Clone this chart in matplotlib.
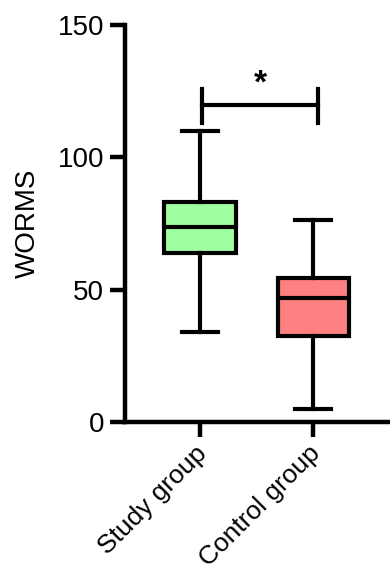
import matplotlib
matplotlib.use("Agg")
import matplotlib.pyplot as plt
from matplotlib.transforms import ScaledTranslation

plt.rcParams['font.family'] = ['Liberation Sans', 'DejaVu Sans']

categories = ["Study group", "Control group"]
whisker_low = [34, 5]
q1 = [64, 32.5]
median = [73.5, 46.8]
q3 = [83, 54.5]
whisker_high = [110, 76.5]
colors = ["#A0FFA0", "#FF8080"]
yticks = [0, 50, 100, 150]
ylabel = "WORMS"
sig_label = "*"

fig = plt.figure(figsize=(3.9, 5.7), dpi=100)
ax = fig.add_axes([125/390, 1-422/570, 1-125/390, (422-25)/570])

stats = []
for i, c in enumerate(categories):
    stats.append(dict(label=c, whislo=whisker_low[i], q1=q1[i], med=median[i],
                      q3=q3[i], whishi=whisker_high[i], fliers=[]))

lw = 3.0
bp = ax.bxp(stats, positions=[0, 1], widths=0.63, patch_artist=True,
            showfliers=False,
            boxprops=dict(linewidth=lw, edgecolor='black'),
            medianprops=dict(linewidth=lw, color='black'),
            whiskerprops=dict(linewidth=lw, color='black'),
            capprops=dict(linewidth=lw, color='black'),
            capwidths=0.32)
for patch, col in zip(bp['boxes'], colors):
    patch.set_facecolor(col)

ax.set_xlim(-0.664, 1.68)
ax.set_ylim(0, 150)
ax.set_yticks(yticks)
ax.set_xticks([0, 1])
ax.set_xticklabels(categories, rotation=45, ha='right', rotation_mode='anchor',
                   fontsize=19)
ax.tick_params(axis='y', labelsize=20, length=11, width=3.2, pad=4)
ax.tick_params(axis='x', length=11, width=3.2, pad=3)
offset = ScaledTranslation(-5/100, 0, fig.dpi_scale_trans)
for lab in ax.get_xticklabels():
    lab.set_transform(lab.get_transform() + offset)
ax.set_ylabel(ylabel, fontsize=20, labelpad=12)

for s in ['top', 'right']:
    ax.spines[s].set_visible(False)
for s in ['left', 'bottom']:
    ax.spines[s].set_linewidth(3.2)

# significance bracket
x1, x2, yb = 0.02, 1.04, 119.8
ax.plot([x1, x2], [yb, yb], color='black', lw=lw, clip_on=False)
ax.plot([x1, x1], [113, 126], color='black', lw=lw, clip_on=False)
ax.plot([x2, x2], [113, 126], color='black', lw=lw, clip_on=False)
ax.text((x1 + x2) / 2, 122, sig_label, ha='center', va='bottom',
        fontsize=24, fontweight='bold')

fig.savefig("out.png", dpi=100)
